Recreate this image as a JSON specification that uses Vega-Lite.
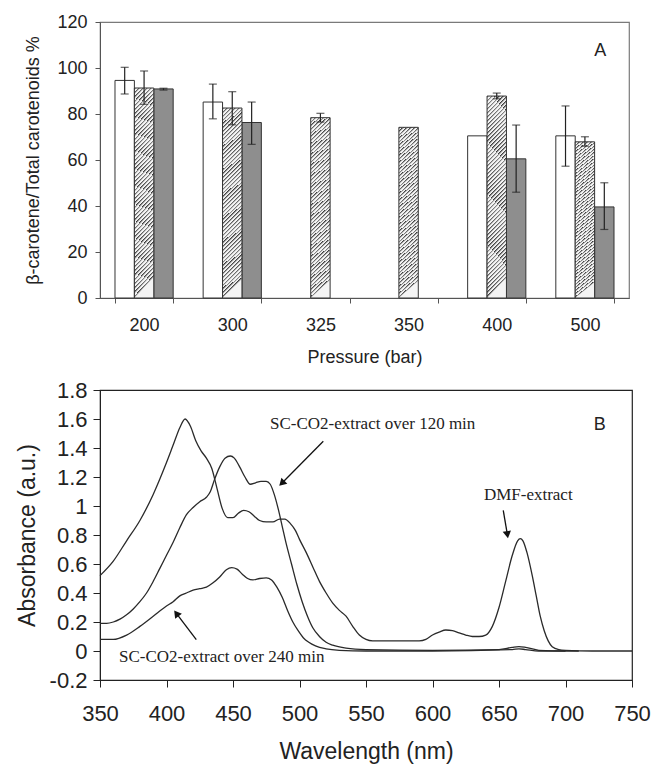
{
  "$schema": "https://vega.github.io/schema/vega-lite/v6.json",
  "padding": {"left": 15, "top": 12, "right": 5, "bottom": 0},
  "spacing": 11,
  "config": {
    "font": "Liberation Sans",
    "view": {"stroke": null},
    "axis": {"grid": false, "labelFont": "Liberation Sans", "titleFont": "Liberation Sans", "titleFontWeight": "normal", "labelColor": "#222", "titleColor": "#222", "labelOverlap": false}
  },
  "datasets": {
    "bars": [
      {"pressure": "200", "series": "s1", "value": 94.6, "lo": 88.7, "hi": 100.3},
      {"pressure": "200", "series": "s2", "value": 91.3, "lo": 84.2, "hi": 98.7},
      {"pressure": "200", "series": "s3", "value": 90.9, "lo": 90.4, "hi": 91.2},
      {"pressure": "300", "series": "s1", "value": 85.2, "lo": 77.9, "hi": 93.0},
      {"pressure": "300", "series": "s2", "value": 82.6, "lo": 75.3, "hi": 89.7},
      {"pressure": "300", "series": "s3", "value": 76.3, "lo": 66.8, "hi": 85.2},
      {"pressure": "325", "series": "s2", "value": 78.4, "lo": 76.5, "hi": 80.3},
      {"pressure": "350", "series": "s2", "value": 74.2},
      {"pressure": "400", "series": "s1", "value": 70.5},
      {"pressure": "400", "series": "s2", "value": 87.8, "lo": 86.6, "hi": 89.1},
      {"pressure": "400", "series": "s3", "value": 60.5, "lo": 46.0, "hi": 75.2},
      {"pressure": "500", "series": "s1", "value": 70.5, "lo": 57.3, "hi": 83.5},
      {"pressure": "500", "series": "s2", "value": 67.9, "lo": 66.0, "hi": 70.1},
      {"pressure": "500", "series": "s3", "value": 39.6, "lo": 29.8, "hi": 50.1}
    ],
    "spectra": [
      {"c": "DMF-extract", "wl": 350, "abs": 0.52},
      {"c": "DMF-extract", "wl": 360, "abs": 0.62},
      {"c": "DMF-extract", "wl": 370, "abs": 0.76},
      {"c": "DMF-extract", "wl": 380, "abs": 0.9},
      {"c": "DMF-extract", "wl": 390, "abs": 1.08},
      {"c": "DMF-extract", "wl": 400, "abs": 1.3},
      {"c": "DMF-extract", "wl": 405, "abs": 1.42},
      {"c": "DMF-extract", "wl": 410, "abs": 1.54},
      {"c": "DMF-extract", "wl": 414, "abs": 1.6},
      {"c": "DMF-extract", "wl": 418, "abs": 1.55},
      {"c": "DMF-extract", "wl": 422, "abs": 1.45},
      {"c": "DMF-extract", "wl": 426, "abs": 1.38},
      {"c": "DMF-extract", "wl": 430, "abs": 1.33},
      {"c": "DMF-extract", "wl": 434, "abs": 1.26},
      {"c": "DMF-extract", "wl": 438, "abs": 1.12},
      {"c": "DMF-extract", "wl": 442, "abs": 0.98},
      {"c": "DMF-extract", "wl": 446, "abs": 0.92},
      {"c": "DMF-extract", "wl": 450, "abs": 0.92},
      {"c": "DMF-extract", "wl": 454, "abs": 0.95},
      {"c": "DMF-extract", "wl": 458, "abs": 0.97},
      {"c": "DMF-extract", "wl": 462, "abs": 0.96},
      {"c": "DMF-extract", "wl": 466, "abs": 0.93},
      {"c": "DMF-extract", "wl": 470, "abs": 0.9},
      {"c": "DMF-extract", "wl": 475, "abs": 0.89},
      {"c": "DMF-extract", "wl": 480, "abs": 0.89},
      {"c": "DMF-extract", "wl": 485, "abs": 0.91},
      {"c": "DMF-extract", "wl": 489, "abs": 0.91},
      {"c": "DMF-extract", "wl": 493, "abs": 0.88},
      {"c": "DMF-extract", "wl": 497, "abs": 0.83},
      {"c": "DMF-extract", "wl": 500, "abs": 0.77},
      {"c": "DMF-extract", "wl": 505, "abs": 0.68},
      {"c": "DMF-extract", "wl": 510, "abs": 0.58},
      {"c": "DMF-extract", "wl": 515, "abs": 0.48},
      {"c": "DMF-extract", "wl": 520, "abs": 0.4},
      {"c": "DMF-extract", "wl": 525, "abs": 0.33},
      {"c": "DMF-extract", "wl": 530, "abs": 0.28},
      {"c": "DMF-extract", "wl": 535, "abs": 0.24},
      {"c": "DMF-extract", "wl": 540, "abs": 0.17},
      {"c": "DMF-extract", "wl": 545, "abs": 0.11},
      {"c": "DMF-extract", "wl": 550, "abs": 0.08},
      {"c": "DMF-extract", "wl": 555, "abs": 0.07},
      {"c": "DMF-extract", "wl": 570, "abs": 0.07},
      {"c": "DMF-extract", "wl": 590, "abs": 0.07},
      {"c": "DMF-extract", "wl": 595, "abs": 0.08},
      {"c": "DMF-extract", "wl": 600, "abs": 0.11},
      {"c": "DMF-extract", "wl": 605, "abs": 0.13},
      {"c": "DMF-extract", "wl": 610, "abs": 0.145},
      {"c": "DMF-extract", "wl": 615, "abs": 0.14},
      {"c": "DMF-extract", "wl": 620, "abs": 0.125},
      {"c": "DMF-extract", "wl": 625, "abs": 0.11},
      {"c": "DMF-extract", "wl": 630, "abs": 0.1},
      {"c": "DMF-extract", "wl": 635, "abs": 0.1},
      {"c": "DMF-extract", "wl": 640, "abs": 0.11},
      {"c": "DMF-extract", "wl": 645, "abs": 0.17},
      {"c": "DMF-extract", "wl": 650, "abs": 0.3},
      {"c": "DMF-extract", "wl": 655, "abs": 0.48},
      {"c": "DMF-extract", "wl": 660, "abs": 0.66},
      {"c": "DMF-extract", "wl": 664, "abs": 0.76},
      {"c": "DMF-extract", "wl": 666, "abs": 0.775},
      {"c": "DMF-extract", "wl": 668, "abs": 0.76},
      {"c": "DMF-extract", "wl": 671, "abs": 0.68},
      {"c": "DMF-extract", "wl": 675, "abs": 0.52},
      {"c": "DMF-extract", "wl": 678, "abs": 0.38},
      {"c": "DMF-extract", "wl": 681, "abs": 0.24},
      {"c": "DMF-extract", "wl": 684, "abs": 0.14},
      {"c": "DMF-extract", "wl": 687, "abs": 0.07},
      {"c": "DMF-extract", "wl": 690, "abs": 0.03},
      {"c": "DMF-extract", "wl": 695, "abs": 0.01},
      {"c": "DMF-extract", "wl": 700, "abs": 0.005},
      {"c": "DMF-extract", "wl": 720, "abs": 0.0},
      {"c": "DMF-extract", "wl": 750, "abs": 0.0},
      {"c": "SC-CO2 120 min", "wl": 350, "abs": 0.19},
      {"c": "SC-CO2 120 min", "wl": 355, "abs": 0.19},
      {"c": "SC-CO2 120 min", "wl": 360, "abs": 0.2},
      {"c": "SC-CO2 120 min", "wl": 365, "abs": 0.22},
      {"c": "SC-CO2 120 min", "wl": 370, "abs": 0.25},
      {"c": "SC-CO2 120 min", "wl": 375, "abs": 0.29},
      {"c": "SC-CO2 120 min", "wl": 380, "abs": 0.34},
      {"c": "SC-CO2 120 min", "wl": 385, "abs": 0.4},
      {"c": "SC-CO2 120 min", "wl": 390, "abs": 0.48},
      {"c": "SC-CO2 120 min", "wl": 395, "abs": 0.57},
      {"c": "SC-CO2 120 min", "wl": 400, "abs": 0.66},
      {"c": "SC-CO2 120 min", "wl": 405, "abs": 0.75},
      {"c": "SC-CO2 120 min", "wl": 410, "abs": 0.85},
      {"c": "SC-CO2 120 min", "wl": 415, "abs": 0.94},
      {"c": "SC-CO2 120 min", "wl": 420, "abs": 0.99},
      {"c": "SC-CO2 120 min", "wl": 425, "abs": 1.03},
      {"c": "SC-CO2 120 min", "wl": 430, "abs": 1.06},
      {"c": "SC-CO2 120 min", "wl": 433, "abs": 1.1},
      {"c": "SC-CO2 120 min", "wl": 436, "abs": 1.18},
      {"c": "SC-CO2 120 min", "wl": 440, "abs": 1.27},
      {"c": "SC-CO2 120 min", "wl": 444, "abs": 1.33},
      {"c": "SC-CO2 120 min", "wl": 448, "abs": 1.345},
      {"c": "SC-CO2 120 min", "wl": 451, "abs": 1.33},
      {"c": "SC-CO2 120 min", "wl": 455, "abs": 1.27},
      {"c": "SC-CO2 120 min", "wl": 459, "abs": 1.2},
      {"c": "SC-CO2 120 min", "wl": 463, "abs": 1.15},
      {"c": "SC-CO2 120 min", "wl": 467, "abs": 1.16},
      {"c": "SC-CO2 120 min", "wl": 471, "abs": 1.17},
      {"c": "SC-CO2 120 min", "wl": 475, "abs": 1.17},
      {"c": "SC-CO2 120 min", "wl": 478, "abs": 1.15},
      {"c": "SC-CO2 120 min", "wl": 481, "abs": 1.08},
      {"c": "SC-CO2 120 min", "wl": 484, "abs": 0.98},
      {"c": "SC-CO2 120 min", "wl": 487, "abs": 0.86},
      {"c": "SC-CO2 120 min", "wl": 490, "abs": 0.74},
      {"c": "SC-CO2 120 min", "wl": 494, "abs": 0.6},
      {"c": "SC-CO2 120 min", "wl": 498, "abs": 0.46},
      {"c": "SC-CO2 120 min", "wl": 502, "abs": 0.34},
      {"c": "SC-CO2 120 min", "wl": 506, "abs": 0.24},
      {"c": "SC-CO2 120 min", "wl": 510, "abs": 0.16},
      {"c": "SC-CO2 120 min", "wl": 515, "abs": 0.1},
      {"c": "SC-CO2 120 min", "wl": 520, "abs": 0.06},
      {"c": "SC-CO2 120 min", "wl": 525, "abs": 0.04},
      {"c": "SC-CO2 120 min", "wl": 535, "abs": 0.02},
      {"c": "SC-CO2 120 min", "wl": 550, "abs": 0.01},
      {"c": "SC-CO2 120 min", "wl": 600, "abs": 0.005},
      {"c": "SC-CO2 120 min", "wl": 650, "abs": 0.01},
      {"c": "SC-CO2 120 min", "wl": 660, "abs": 0.025},
      {"c": "SC-CO2 120 min", "wl": 665, "abs": 0.03},
      {"c": "SC-CO2 120 min", "wl": 670, "abs": 0.025},
      {"c": "SC-CO2 120 min", "wl": 680, "abs": 0.005},
      {"c": "SC-CO2 120 min", "wl": 700, "abs": 0.0},
      {"c": "SC-CO2 120 min", "wl": 710, "abs": 0.0},
      {"c": "SC-CO2 240 min", "wl": 350, "abs": 0.08},
      {"c": "SC-CO2 240 min", "wl": 360, "abs": 0.08},
      {"c": "SC-CO2 240 min", "wl": 370, "abs": 0.11},
      {"c": "SC-CO2 240 min", "wl": 380, "abs": 0.17},
      {"c": "SC-CO2 240 min", "wl": 390, "abs": 0.24},
      {"c": "SC-CO2 240 min", "wl": 400, "abs": 0.31},
      {"c": "SC-CO2 240 min", "wl": 405, "abs": 0.34},
      {"c": "SC-CO2 240 min", "wl": 410, "abs": 0.38},
      {"c": "SC-CO2 240 min", "wl": 415, "abs": 0.4},
      {"c": "SC-CO2 240 min", "wl": 420, "abs": 0.42},
      {"c": "SC-CO2 240 min", "wl": 425, "abs": 0.43},
      {"c": "SC-CO2 240 min", "wl": 430, "abs": 0.44},
      {"c": "SC-CO2 240 min", "wl": 435, "abs": 0.47},
      {"c": "SC-CO2 240 min", "wl": 440, "abs": 0.51},
      {"c": "SC-CO2 240 min", "wl": 445, "abs": 0.56},
      {"c": "SC-CO2 240 min", "wl": 449, "abs": 0.575},
      {"c": "SC-CO2 240 min", "wl": 453, "abs": 0.565},
      {"c": "SC-CO2 240 min", "wl": 457, "abs": 0.53},
      {"c": "SC-CO2 240 min", "wl": 461, "abs": 0.5},
      {"c": "SC-CO2 240 min", "wl": 465, "abs": 0.49},
      {"c": "SC-CO2 240 min", "wl": 470, "abs": 0.5},
      {"c": "SC-CO2 240 min", "wl": 475, "abs": 0.505},
      {"c": "SC-CO2 240 min", "wl": 479, "abs": 0.49},
      {"c": "SC-CO2 240 min", "wl": 483, "abs": 0.44},
      {"c": "SC-CO2 240 min", "wl": 487, "abs": 0.37},
      {"c": "SC-CO2 240 min", "wl": 491, "abs": 0.28},
      {"c": "SC-CO2 240 min", "wl": 495, "abs": 0.2},
      {"c": "SC-CO2 240 min", "wl": 499, "abs": 0.14},
      {"c": "SC-CO2 240 min", "wl": 503, "abs": 0.09},
      {"c": "SC-CO2 240 min", "wl": 507, "abs": 0.06},
      {"c": "SC-CO2 240 min", "wl": 512, "abs": 0.035},
      {"c": "SC-CO2 240 min", "wl": 520, "abs": 0.015},
      {"c": "SC-CO2 240 min", "wl": 530, "abs": 0.005},
      {"c": "SC-CO2 240 min", "wl": 550, "abs": 0.0},
      {"c": "SC-CO2 240 min", "wl": 600, "abs": 0.0},
      {"c": "SC-CO2 240 min", "wl": 660, "abs": 0.01},
      {"c": "SC-CO2 240 min", "wl": 665, "abs": 0.015},
      {"c": "SC-CO2 240 min", "wl": 670, "abs": 0.01},
      {"c": "SC-CO2 240 min", "wl": 680, "abs": 0.0},
      {"c": "SC-CO2 240 min", "wl": 700, "abs": 0.0}
    ],
    "notes": [
      {"text": "SC-CO2-extract over 120 min", "wl": 555, "abs": 1.568},
      {"text": "DMF-extract", "wl": 672, "abs": 1.074},
      {"text": "SC-CO2-extract over 240 min", "wl": 441.5, "abs": -0.041}
    ],
    "arrows": [
      {"arrow": "120 min", "wl1": 517.9, "abs1": 1.446, "wl2": 486.7, "abs2": 1.157},
      {"arrow": "DMF", "wl1": 653.2, "abs1": 0.97, "wl2": 656.3, "abs2": 0.802},
      {"arrow": "240 min", "wl1": 422.4, "abs1": 0.078, "wl2": 407.4, "abs2": 0.259}
    ]
  },
  "vconcat": [
    {
      "width": 529,
      "height": 276,
      "view": {"stroke": "#7a7a7a", "strokeWidth": 1.2},
      "data": {"name": "bars"},
      "encoding": {
        "x": {
          "field": "pressure", "type": "nominal",
          "sort": ["200", "300", "325", "350", "400", "500"],
          "scale": {"paddingInner": 0.34, "paddingOuter": 0.17},
          "axis": {"title": "Pressure (bar)", "labelAngle": 0, "tickBand": "extent", "domainColor": "#555", "tickColor": "#555", "tickSize": 5, "labelFontSize": 18, "titleFontSize": 18, "labelPadding": 13, "titlePadding": 14}
        },
        "xOffset": {"field": "series", "type": "nominal", "scale": {"domain": ["s1", "s2", "s3"], "paddingInner": 0, "paddingOuter": 0}}
      },
      "layer": [
        {
          "transform": [{"filter": "datum.series != 's2'"}],
          "mark": {"type": "bar", "stroke": "#333", "strokeWidth": 1},
          "encoding": {
            "y": {"field": "value", "type": "quantitative", "scale": {"domain": [0, 120]},
              "axis": {"title": "β-carotene/Total carotenoids %", "values": [0, 20, 40, 60, 80, 100, 120], "domainColor": "#555", "tickColor": "#555", "tickSize": 5, "labelFontSize": 18, "titleFontSize": 18, "labelPadding": 8, "titlePadding": 14}},
            "fill": {"field": "series", "type": "nominal", "scale": {"domain": ["s1", "s3"], "range": ["#ffffff", "#8e8e8e"]}, "legend": null}
          }
        },
        {
          "transform": [{"filter": "datum.series == 's2'"}],
          "mark": {"type": "bar", "stroke": "#333", "strokeWidth": 1,
            "fill": {"gradient": "linear", "x1": 0, "y1": 0, "x2": 0.1, "y2": 1, "stops": [
              {"offset": 0, "color": "#3a3a3a"}, {"offset": 0.012, "color": "#f4f4f4"}, {"offset": 0.02, "color": "#f4f4f4"},
              {"offset": 0.02, "color": "#3a3a3a"}, {"offset": 0.032, "color": "#f4f4f4"}, {"offset": 0.04, "color": "#f4f4f4"},
              {"offset": 0.04, "color": "#3a3a3a"}, {"offset": 0.052, "color": "#f4f4f4"}, {"offset": 0.06, "color": "#f4f4f4"},
              {"offset": 0.06, "color": "#3a3a3a"}, {"offset": 0.072, "color": "#f4f4f4"}, {"offset": 0.08, "color": "#f4f4f4"},
              {"offset": 0.08, "color": "#3a3a3a"}, {"offset": 0.092, "color": "#f4f4f4"}, {"offset": 0.1, "color": "#f4f4f4"},
              {"offset": 0.1, "color": "#3a3a3a"}, {"offset": 0.112, "color": "#f4f4f4"}, {"offset": 0.12, "color": "#f4f4f4"},
              {"offset": 0.12, "color": "#3a3a3a"}, {"offset": 0.132, "color": "#f4f4f4"}, {"offset": 0.14, "color": "#f4f4f4"},
              {"offset": 0.14, "color": "#3a3a3a"}, {"offset": 0.152, "color": "#f4f4f4"}, {"offset": 0.16, "color": "#f4f4f4"},
              {"offset": 0.16, "color": "#3a3a3a"}, {"offset": 0.172, "color": "#f4f4f4"}, {"offset": 0.18, "color": "#f4f4f4"},
              {"offset": 0.18, "color": "#3a3a3a"}, {"offset": 0.192, "color": "#f4f4f4"}, {"offset": 0.2, "color": "#f4f4f4"},
              {"offset": 0.2, "color": "#3a3a3a"}, {"offset": 0.212, "color": "#f4f4f4"}, {"offset": 0.22, "color": "#f4f4f4"},
              {"offset": 0.22, "color": "#3a3a3a"}, {"offset": 0.232, "color": "#f4f4f4"}, {"offset": 0.24, "color": "#f4f4f4"},
              {"offset": 0.24, "color": "#3a3a3a"}, {"offset": 0.252, "color": "#f4f4f4"}, {"offset": 0.26, "color": "#f4f4f4"},
              {"offset": 0.26, "color": "#3a3a3a"}, {"offset": 0.272, "color": "#f4f4f4"}, {"offset": 0.28, "color": "#f4f4f4"},
              {"offset": 0.28, "color": "#3a3a3a"}, {"offset": 0.292, "color": "#f4f4f4"}, {"offset": 0.3, "color": "#f4f4f4"},
              {"offset": 0.3, "color": "#3a3a3a"}, {"offset": 0.312, "color": "#f4f4f4"}, {"offset": 0.32, "color": "#f4f4f4"},
              {"offset": 0.32, "color": "#3a3a3a"}, {"offset": 0.332, "color": "#f4f4f4"}, {"offset": 0.34, "color": "#f4f4f4"},
              {"offset": 0.34, "color": "#3a3a3a"}, {"offset": 0.352, "color": "#f4f4f4"}, {"offset": 0.36, "color": "#f4f4f4"},
              {"offset": 0.36, "color": "#3a3a3a"}, {"offset": 0.372, "color": "#f4f4f4"}, {"offset": 0.38, "color": "#f4f4f4"},
              {"offset": 0.38, "color": "#3a3a3a"}, {"offset": 0.392, "color": "#f4f4f4"}, {"offset": 0.4, "color": "#f4f4f4"},
              {"offset": 0.4, "color": "#3a3a3a"}, {"offset": 0.412, "color": "#f4f4f4"}, {"offset": 0.42, "color": "#f4f4f4"},
              {"offset": 0.42, "color": "#3a3a3a"}, {"offset": 0.432, "color": "#f4f4f4"}, {"offset": 0.44, "color": "#f4f4f4"},
              {"offset": 0.44, "color": "#3a3a3a"}, {"offset": 0.452, "color": "#f4f4f4"}, {"offset": 0.46, "color": "#f4f4f4"},
              {"offset": 0.46, "color": "#3a3a3a"}, {"offset": 0.472, "color": "#f4f4f4"}, {"offset": 0.48, "color": "#f4f4f4"},
              {"offset": 0.48, "color": "#3a3a3a"}, {"offset": 0.492, "color": "#f4f4f4"}, {"offset": 0.5, "color": "#f4f4f4"},
              {"offset": 0.5, "color": "#3a3a3a"}, {"offset": 0.512, "color": "#f4f4f4"}, {"offset": 0.52, "color": "#f4f4f4"},
              {"offset": 0.52, "color": "#3a3a3a"}, {"offset": 0.532, "color": "#f4f4f4"}, {"offset": 0.54, "color": "#f4f4f4"},
              {"offset": 0.54, "color": "#3a3a3a"}, {"offset": 0.552, "color": "#f4f4f4"}, {"offset": 0.56, "color": "#f4f4f4"},
              {"offset": 0.56, "color": "#3a3a3a"}, {"offset": 0.572, "color": "#f4f4f4"}, {"offset": 0.58, "color": "#f4f4f4"},
              {"offset": 0.58, "color": "#3a3a3a"}, {"offset": 0.592, "color": "#f4f4f4"}, {"offset": 0.6, "color": "#f4f4f4"},
              {"offset": 0.6, "color": "#3a3a3a"}, {"offset": 0.612, "color": "#f4f4f4"}, {"offset": 0.62, "color": "#f4f4f4"},
              {"offset": 0.62, "color": "#3a3a3a"}, {"offset": 0.632, "color": "#f4f4f4"}, {"offset": 0.64, "color": "#f4f4f4"},
              {"offset": 0.64, "color": "#3a3a3a"}, {"offset": 0.652, "color": "#f4f4f4"}, {"offset": 0.66, "color": "#f4f4f4"},
              {"offset": 0.66, "color": "#3a3a3a"}, {"offset": 0.672, "color": "#f4f4f4"}, {"offset": 0.68, "color": "#f4f4f4"},
              {"offset": 0.68, "color": "#3a3a3a"}, {"offset": 0.692, "color": "#f4f4f4"}, {"offset": 0.7, "color": "#f4f4f4"},
              {"offset": 0.7, "color": "#3a3a3a"}, {"offset": 0.712, "color": "#f4f4f4"}, {"offset": 0.72, "color": "#f4f4f4"},
              {"offset": 0.72, "color": "#3a3a3a"}, {"offset": 0.732, "color": "#f4f4f4"}, {"offset": 0.74, "color": "#f4f4f4"},
              {"offset": 0.74, "color": "#3a3a3a"}, {"offset": 0.752, "color": "#f4f4f4"}, {"offset": 0.76, "color": "#f4f4f4"},
              {"offset": 0.76, "color": "#3a3a3a"}, {"offset": 0.772, "color": "#f4f4f4"}, {"offset": 0.78, "color": "#f4f4f4"},
              {"offset": 0.78, "color": "#3a3a3a"}, {"offset": 0.792, "color": "#f4f4f4"}, {"offset": 0.8, "color": "#f4f4f4"},
              {"offset": 0.8, "color": "#3a3a3a"}, {"offset": 0.812, "color": "#f4f4f4"}, {"offset": 0.82, "color": "#f4f4f4"},
              {"offset": 0.82, "color": "#3a3a3a"}, {"offset": 0.832, "color": "#f4f4f4"}, {"offset": 0.84, "color": "#f4f4f4"},
              {"offset": 0.84, "color": "#3a3a3a"}, {"offset": 0.852, "color": "#f4f4f4"}, {"offset": 0.86, "color": "#f4f4f4"},
              {"offset": 0.86, "color": "#3a3a3a"}, {"offset": 0.872, "color": "#f4f4f4"}, {"offset": 0.88, "color": "#f4f4f4"},
              {"offset": 0.88, "color": "#3a3a3a"}, {"offset": 0.892, "color": "#f4f4f4"}, {"offset": 0.9, "color": "#f4f4f4"},
              {"offset": 0.9, "color": "#3a3a3a"}, {"offset": 0.912, "color": "#f4f4f4"}, {"offset": 0.92, "color": "#f4f4f4"},
              {"offset": 0.92, "color": "#3a3a3a"}, {"offset": 0.932, "color": "#f4f4f4"}, {"offset": 0.94, "color": "#f4f4f4"},
              {"offset": 0.94, "color": "#3a3a3a"}, {"offset": 0.952, "color": "#f4f4f4"}, {"offset": 0.96, "color": "#f4f4f4"},
              {"offset": 0.96, "color": "#3a3a3a"}, {"offset": 0.972, "color": "#f4f4f4"}, {"offset": 0.98, "color": "#f4f4f4"},
              {"offset": 0.98, "color": "#3a3a3a"}, {"offset": 0.992, "color": "#f4f4f4"}, {"offset": 1, "color": "#f4f4f4"}
            ]}},
          "encoding": {"y": {"field": "value", "type": "quantitative"}}
        },
        {
          "transform": [{"filter": "isValid(datum.lo)"}],
          "mark": {"type": "rule", "color": "#222", "strokeWidth": 1.2},
          "encoding": {"y": {"field": "lo", "type": "quantitative"}, "y2": {"field": "hi"}}
        },
        {
          "transform": [{"filter": "isValid(datum.lo)"}],
          "mark": {"type": "tick", "color": "#222", "size": 8, "thickness": 1.2, "orient": "horizontal"},
          "encoding": {"y": {"field": "lo", "type": "quantitative"}}
        },
        {
          "transform": [{"filter": "isValid(datum.hi)"}],
          "mark": {"type": "tick", "color": "#222", "size": 8, "thickness": 1.2, "orient": "horizontal"},
          "encoding": {"y": {"field": "hi", "type": "quantitative"}}
        },
        {
          "data": {"values": [{"pressure": "500", "series": "s3", "label": "A", "value": 107.2}]},
          "mark": {"type": "text", "font": "Liberation Sans", "fontSize": 18, "color": "#222", "baseline": "middle", "align": "center", "dx": -4},
          "encoding": {"y": {"field": "value", "type": "quantitative"}, "text": {"field": "label"}}
        }
      ]
    },
    {
      "width": 532,
      "height": 290,
      "view": {"stroke": "#222", "strokeWidth": 1.2},
      "encoding": {
        "x": {"type": "quantitative", "scale": {"domain": [350, 750]},
          "axis": {"title": "Wavelength (nm)", "values": [350, 400, 450, 500, 550, 600, 650, 700, 750], "labelFlush": false, "labelFontSize": 22, "titleFontSize": 23, "tickSize": 7, "labelPadding": 16, "titlePadding": 16, "domainColor": "#222", "tickColor": "#222"}},
        "y": {"type": "quantitative", "scale": {"domain": [-0.2, 1.8]},
          "axis": {"title": "Absorbance (a.u.)", "values": [-0.2, 0, 0.2, 0.4, 0.6, 0.8, 1, 1.2, 1.4, 1.6, 1.8], "labelExpr": "replace(format(datum.value, '.1~f'), '\u2212', '-')", "labelFontSize": 22, "titleFontSize": 23, "tickSize": 7, "labelPadding": 6, "titlePadding": 10, "domainColor": "#222", "tickColor": "#222"}}
      },
      "layer": [
        {
          "data": {"name": "spectra"},
          "mark": {"type": "line", "color": "#2a2a2a", "strokeWidth": 1.3, "interpolate": "monotone"},
          "encoding": {"x": {"field": "wl"}, "y": {"field": "abs"}, "detail": {"field": "c"}}
        },
        {
          "data": {"name": "arrows"},
          "mark": {"type": "rule", "color": "#111", "strokeWidth": 1.3},
          "encoding": {"x": {"field": "wl1"}, "y": {"field": "abs1"}, "x2": {"field": "wl2"}, "y2": {"field": "abs2"}}
        },
        {
          "data": {"name": "arrows"},
          "transform": [{"filter": "datum.arrow == '120 min'"}],
          "mark": {"type": "point", "shape": "triangle-up", "filled": true, "color": "#111", "opacity": 1, "size": 70, "angle": 225},
          "encoding": {"x": {"field": "wl2"}, "y": {"field": "abs2"}}
        },
        {
          "data": {"name": "arrows"},
          "transform": [{"filter": "datum.arrow == 'DMF'"}],
          "mark": {"type": "point", "shape": "triangle-up", "filled": true, "color": "#111", "opacity": 1, "size": 70, "angle": 171},
          "encoding": {"x": {"field": "wl2"}, "y": {"field": "abs2"}}
        },
        {
          "data": {"name": "arrows"},
          "transform": [{"filter": "datum.arrow == '240 min'"}],
          "mark": {"type": "point", "shape": "triangle-up", "filled": true, "color": "#111", "opacity": 1, "size": 70, "angle": 323},
          "encoding": {"x": {"field": "wl2"}, "y": {"field": "abs2"}}
        },
        {
          "data": {"name": "notes"},
          "mark": {"type": "text", "font": "Liberation Serif", "fontSize": 17, "color": "#222", "align": "center", "baseline": "middle"},
          "encoding": {"x": {"field": "wl"}, "y": {"field": "abs"}, "text": {"field": "text"}}
        },
        {
          "data": {"values": [{"label": "B", "wl": 725.8, "abs": 1.556}]},
          "mark": {"type": "text", "font": "Liberation Sans", "fontSize": 18, "color": "#222", "align": "center", "baseline": "middle"},
          "encoding": {"x": {"field": "wl"}, "y": {"field": "abs"}, "text": {"field": "label"}}
        }
      ]
    }
  ]
}
